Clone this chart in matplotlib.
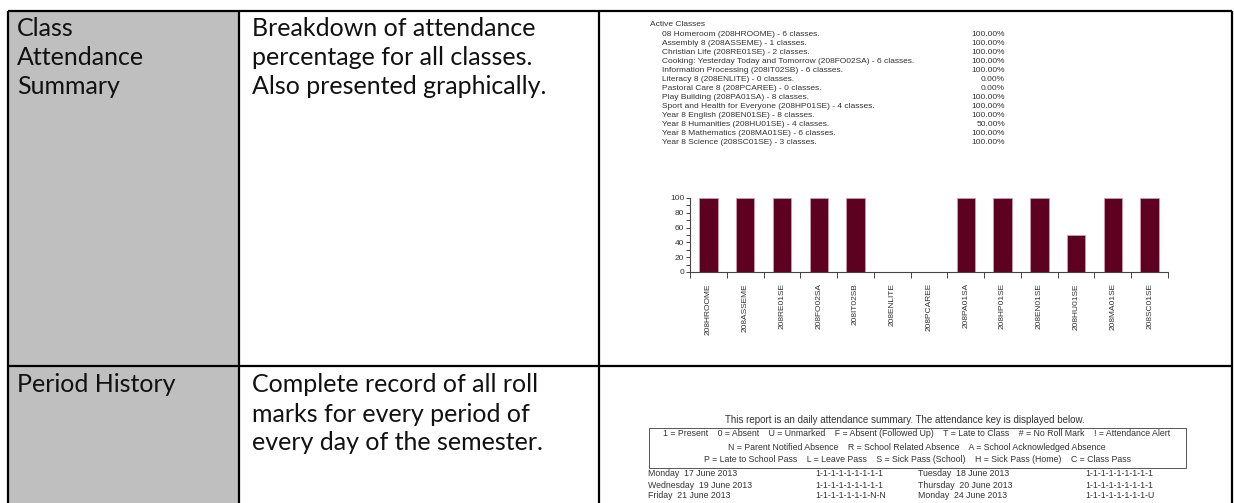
import numpy as np
import matplotlib.pyplot as plt
from matplotlib.patches import Rectangle

# page size in pixels
W, H = 1234, 503

# table text
row_titles = [["Class", "Attendance", "Summary"], ["Period History"]]
row_descs = [["Breakdown of attendance", "percentage for all classes.", "Also presented graphically."],
             ["Complete record of all roll", "marks for every period of", "every day of the semester."]]

# class attendance data
class_names = ["08 Homeroom", "Assembly 8", "Christian Life", "Cooking: Yesterday Today and Tomorrow",
               "Information Processing", "Literacy 8", "Pastoral Care 8", "Play Building",
               "Sport and Health for Everyone", "Year 8 English", "Year 8 Humanities",
               "Year 8 Mathematics", "Year 8 Science"]
class_codes = ["208HROOME", "208ASSEME", "208RE01SE", "208FO02SA", "208IT02SB", "208ENLITE",
               "208PCAREE", "208PA01SA", "208HP01SE", "208EN01SE", "208HU01SE", "208MA01SE", "208SC01SE"]
class_counts = [6, 1, 2, 6, 6, 0, 0, 8, 4, 8, 4, 6, 3]
attendance_pct = [100, 100, 100, 100, 100, 0, 0, 100, 100, 100, 50, 100, 100]

# period history data
key_lines = ["1 = Present    0 = Absent    U = Unmarked    F = Absent (Followed Up)    T = Late to Class    # = No Roll Mark    ! = Attendance Alert",
             "N = Parent Notified Absence    R = School Related Absence    A = School Acknowledged Absence",
             "P = Late to School Pass    L = Leave Pass    S = Sick Pass (School)    H = Sick Pass (Home)    C = Class Pass"]
days_left = ["Monday  17 June 2013", "Wednesday  19 June 2013", "Friday  21 June 2013"]
marks_left = ["1-1-1-1-1-1-1-1-1", "1-1-1-1-1-1-1-1-1", "1-1-1-1-1-1-1-N-N"]
days_right = ["Tuesday  18 June 2013", "Thursday  20 June 2013", "Monday  24 June 2013"]
marks_right = ["1-1-1-1-1-1-1-1-1", "1-1-1-1-1-1-1-1-1", "1-1-1-1-1-1-1-1-U"]

fig = plt.figure(figsize=(W / 100, H / 100), dpi=100)
bg = fig.add_axes([0, 0, 1, 1])
bg.set_xlim(0, W)
bg.set_ylim(H, 0)
bg.axis("off")

# table: grey first column, borders
bg.add_patch(Rectangle((8, 11), 231, H, facecolor="#bfbfbf", edgecolor="none"))
lw = 1.6
for x in [8, 239, 599, 1232]:
    bg.plot([x, x], [11, H + 5], color="black", lw=lw, solid_capstyle="butt")
for y in [11, 366]:
    bg.plot([8, 1232], [y, y], color="black", lw=lw, solid_capstyle="butt")

body = dict(family="Lato", fontsize=18, color="#111111", va="center")
for top, titles, descs in zip([28, 385], row_titles, row_descs):
    for i, t in enumerate(titles):
        bg.text(17, top + 29 * i, t, **body)
    for i, t in enumerate(descs):
        bg.text(252, top + 29 * i, t, **body)

# class listing
small = dict(family="Liberation Sans", fontsize=6.0, color="#333333", va="center")
bg.text(650, 24, "Active Classes", **small)
for i, (name, code, n, p) in enumerate(zip(class_names, class_codes, class_counts, attendance_pct)):
    y = 34 + 9.08 * i
    bg.text(662, y, f"{name} ({code}) - {n} classes.", **small)
    bg.text(1005, y, f"{p:.2f}%", ha="right", **small)

# bar chart
ax = fig.add_axes([690 / W, 1 - 272 / H, (1168 - 690) / W, 74 / H])
x = np.arange(len(class_codes))
ax.bar(x, attendance_pct, width=0.5, color="#5e0020", edgecolor="#c9a0aa", linewidth=0.6)
ax.set_xlim(-0.5, len(class_codes) - 0.5)
ax.set_ylim(0, 100)
for s in ["top", "right"]:
    ax.spines[s].set_visible(False)
for s in ["left", "bottom"]:
    ax.spines[s].set_color("#444444")
    ax.spines[s].set_linewidth(0.8)
ax.set_yticks(np.arange(0, 101, 20))
ax.set_yticks(np.arange(0, 101, 10), minor=True)
ax.tick_params(axis="y", which="both", length=3, width=0.7, color="#444444", pad=1,
               labelsize=6.0, labelcolor="#333333")
ax.set_xticks(np.arange(-0.5, len(class_codes)), labels=[])
ax.set_xticks(x, labels=class_codes, minor=True)
ax.tick_params(axis="x", which="major", length=4, width=0.7, color="#444444")
ax.tick_params(axis="x", which="minor", length=0, pad=8, labelsize=6.0, labelcolor="#333333",
               labelrotation=90)
for lab in ax.get_yticklabels() + ax.get_xticklabels(minor=True):
    lab.set_family("Liberation Sans")

# period history
rep = dict(family="Liberation Sans", fontsize=6.3, color="#333333", va="center")
bg.text(905, 420, "This report is an daily attendance summary. The attendance key is displayed below.",
        ha="center", fontsize=7.0, **{k: v for k, v in rep.items() if k != "fontsize"})
bg.add_patch(Rectangle((649, 428), 537, 40, facecolor="none", edgecolor="#555555", lw=0.7))
for i, line in enumerate(key_lines):
    bg.text(917, 434 + 13 * i, line, ha="center", **rep)
for i in range(len(days_left)):
    y = 474 + 11 * i
    bg.text(648, y, days_left[i], **rep)
    bg.text(815, y, marks_left[i], **rep)
    bg.text(918, y, days_right[i], **rep)
    bg.text(1085, y, marks_right[i], **rep)

fig.savefig("out.png", dpi=100)
